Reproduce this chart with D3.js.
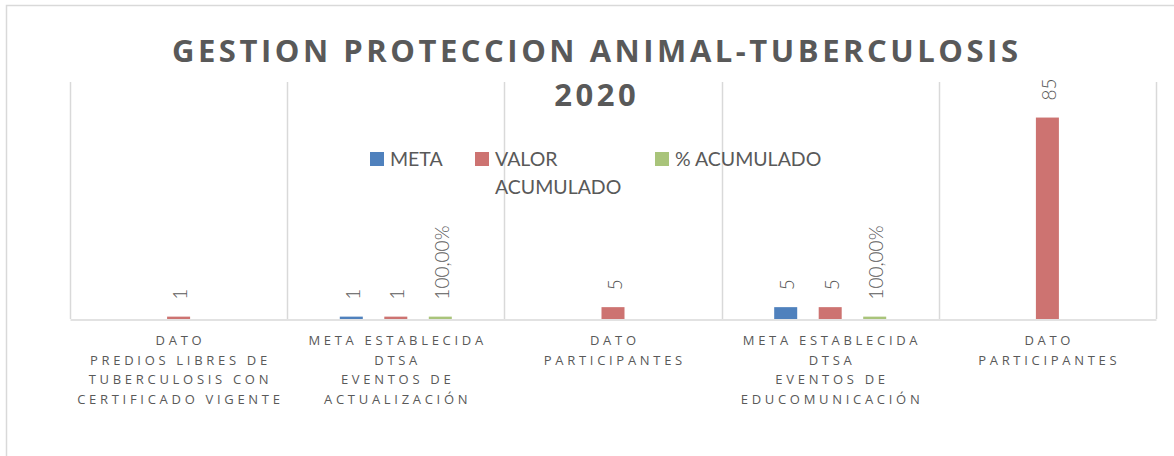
<!DOCTYPE html>
<html>
<head>
<meta charset="utf-8">
<script src="https://cdn.jsdelivr.net/npm/d3@7"></script>
<style>
  html, body { margin: 0; padding: 0; background: #ffffff; }
  svg { display: block; }
</style>
</head>
<body>
<svg id="chart" width="1174" height="456"></svg>
<script>
// ---- data ----
const titleLines = ["GESTION PROTECCION ANIMAL-TUBERCULOSIS", "2020"];
const categories = [
  "DATO\nPREDIOS LIBRES DE\nTUBERCULOSIS CON\nCERTIFICADO VIGENTE",
  "META ESTABLECIDA\nDTSA\nEVENTOS DE\nACTUALIZACIÓN",
  "DATO\nPARTICIPANTES",
  "META ESTABLECIDA\nDTSA\nEVENTOS DE\nEDUCOMUNICACIÓN",
  "DATO\nPARTICIPANTES"
];
const seriesNames = ["META", "VALOR ACUMULADO", "% ACUMULADO"];
const legendLabels = ["META", "VALOR\nACUMULADO", "% ACUMULADO"];
const metaValues = [null, 1, null, 5, null];
const valorValues = [1, 1, 5, 5, 85];
const pctValues = [null, 1.0, null, 1.0, null];   // 100,00%
const seriesColors = ["#4f81bd", "#cd7371", "#a9c47a"];
const yDomain = [0, 100];

// ---- layout ----
const svg = d3.select("#chart");
const plot = { left: 70, right: 1156, top: 82, bottom: 319 };
const textColor = "#595959";
const gridColor = "#d9d9d9";

// frame
svg.append("rect")
  .attr("x", 6.5).attr("y", 5.5)
  .attr("width", 1200).attr("height", 500)
  .attr("fill", "#ffffff")
  .attr("stroke", gridColor).attr("stroke-width", 1.5);

const x0 = d3.scaleBand().domain(d3.range(categories.length))
  .range([plot.left, plot.right]).paddingInner(0).paddingOuter(0);
const groupSpan = 133.5;
const x1 = d3.scaleBand().domain(d3.range(seriesNames.length))
  .range([-groupSpan / 2, groupSpan / 2]).paddingInner(0.483).paddingOuter(0.2415);
const y = d3.scaleLinear().domain(yDomain).range([plot.bottom, plot.top]);

// vertical gridlines at category boundaries
const bounds = d3.range(categories.length + 1).map(i => i < categories.length ? x0(i) : x0.range()[1]);
svg.append("g").selectAll("line").data(bounds).join("line")
  .attr("x1", d => Math.round(d) + 0.5).attr("x2", d => Math.round(d) + 0.5)
  .attr("y1", plot.top).attr("y2", plot.bottom)
  .attr("stroke", gridColor).attr("stroke-width", 1.5);

// baseline (category axis)
const xAxis = d3.axisBottom(x0).tickSize(0).tickFormat("");
const axisG = svg.append("g").attr("transform", `translate(0,${plot.bottom + 0.5})`).call(xAxis);
axisG.select(".domain").attr("stroke", gridColor).attr("stroke-width", 1.5);

// bars
const allSeries = [metaValues, valorValues, pctValues];
const barData = [];
allSeries.forEach((vals, s) => vals.forEach((v, c) => {
  if (v !== null) barData.push({ s, c, v });
}));

const fmtPct = v => d3.format(".2f")(v * 100).replace(".", ",") + "%";
const fmtVal = (d) => d.s === 2 ? fmtPct(d.v) : String(d.v);

svg.append("g").selectAll("rect").data(barData).join("rect")
  .attr("x", d => x0(d.c) + x0.bandwidth() / 2 + x1(d.s))
  .attr("width", x1.bandwidth())
  .attr("y", d => y(d.v))
  .attr("height", d => y(0) - y(d.v))
  .attr("fill", d => seriesColors[d.s]);

// data labels (rotated)
svg.append("g").selectAll("text").data(barData).join("text")
  .attr("transform", d => {
    const cx = x0(d.c) + x0.bandwidth() / 2 + x1(d.s) + x1.bandwidth() / 2;
    return `translate(${cx + 1},${y(d.v) - 17}) rotate(-90)`;
  })
  .attr("text-anchor", "start")
  .attr("dominant-baseline", "central")
  .attr("font-family", "Lato, 'Open Sans', sans-serif")
  .attr("font-weight", 300)
  .attr("font-size", "19px")
  .attr("fill", textColor)
  .text(d => fmtVal(d));

// category labels
const catG = svg.append("g");
categories.forEach((cat, i) => {
  const cx = x0(i) + x0.bandwidth() / 2;
  const t = catG.append("text")
    .attr("text-anchor", "middle")
    .attr("font-family", "'Open Sans', sans-serif")
    .attr("font-size", "13px")
    .attr("letter-spacing", "3.7px")
    .attr("fill", textColor);
  cat.split("\n").forEach((line, k) => {
    t.append("tspan").attr("x", cx + 1.85).attr("y", 345 + k * 19.6).text(line);
  });
});

// title
const titleT = svg.append("text")
  .attr("text-anchor", "middle")
  .attr("font-family", "'Open Sans', sans-serif")
  .attr("font-weight", 700)
  .attr("font-size", "31px")
  .attr("fill", textColor);
const t1 = titleT.append("tspan").attr("x", 595).attr("y", 62).text(titleLines[0]);
const t2 = titleT.append("tspan").attr("x", 595).attr("y", 106).text(titleLines[1]);
// fit letter spacing to target width
const natural = t1.node().getComputedTextLength();
const n = titleLines[0].length;
const ls = Math.max(0, (846 - natural) / (n - 1));
titleT.attr("letter-spacing", ls + "px");
t1.attr("x", 595 + ls / 2);
t2.attr("x", 595 + ls / 2);

// legend
const legendX = [370, 475, 655];
const legG = svg.append("g");
seriesNames.forEach((name, i) => {
  const g = legG.append("g").attr("transform", `translate(${legendX[i]},152)`);
  g.append("rect").attr("width", 14).attr("height", 14).attr("fill", seriesColors[i]);
  const t = g.append("text")
    .attr("font-family", "Lato, 'Open Sans', sans-serif")
    .attr("font-size", "19.5px")
    .attr("fill", textColor);
  legendLabels[i].split("\n").forEach((line, k) => {
    t.append("tspan").attr("x", 20).attr("y", 14 + k * 28).text(line);
  });
});
</script>
</body>
</html>
